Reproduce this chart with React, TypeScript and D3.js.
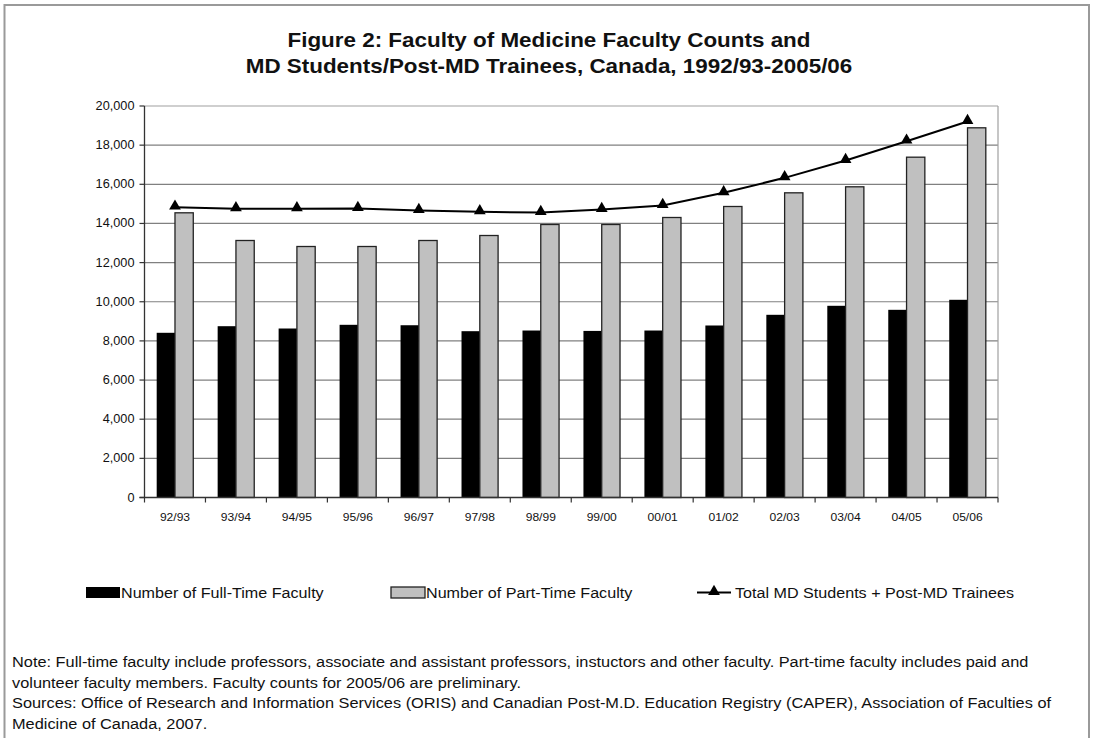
import * as d3 from "d3";
import React from "react";

const categories = ["92/93", "93/94", "94/95", "95/96", "96/97", "97/98", "98/99", "99/00", "00/01", "01/02", "02/03", "03/04", "04/05", "05/06"];
const fullTime = [8414, 8751, 8633, 8822, 8800, 8496, 8530, 8510, 8530, 8787, 9333, 9793, 9588, 10100];
const partTime = [14544, 13129, 12822, 12822, 13129, 13384, 13946, 13946, 14304, 14866, 15565, 15872, 17385, 18886];
const totalMD = [14830, 14750, 14750, 14764, 14662, 14594, 14560, 14713, 14917, 15565, 16330, 17216, 18203, 19208];
const yTicks = [0, 2000, 4000, 6000, 8000, 10000, 12000, 14000, 16000, 18000, 20000];

const titleLines = [
  "Figure 2: Faculty of Medicine Faculty Counts and",
  "MD Students/Post-MD Trainees, Canada, 1992/93-2005/06",
];
const legendLabels = ["Number of Full-Time Faculty", "Number of Part-Time Faculty", "Total MD Students + Post-MD Trainees"];
const noteLines = [
  "Note: Full-time faculty include professors, associate and assistant professors, instuctors and other faculty. Part-time faculty includes paid and",
  "volunteer faculty members. Faculty counts for 2005/06 are preliminary.",
  "Sources: Office of Research and Information Services (ORIS) and Canadian Post-M.D. Education Registry (CAPER), Association of Faculties of",
  "Medicine of Canada, 2007.",
];

const W = 1096;
const H = 738;
const left = 144.5;
const right = 998;
const top = 106;
const bottom = 497.5;
const font = "'Liberation Sans', Arial, sans-serif";

// the scanned figure is a bit wider than it is tall, so text gets a horizontal stretch
function Wide({ x, y, sx, anchor = "start", size, weight = "normal", children }: any) {
  return (
    <g transform={`translate(${x},${y}) scale(${sx},1)`}>
      <text textAnchor={anchor} fontFamily={font} fontSize={size} fontWeight={weight} fill="#111">
        {children}
      </text>
    </g>
  );
}

export default function App() {
  const x = d3.scaleBand().domain(categories).range([left, right]).padding(0);
  const y = d3.scaleLinear().domain([0, 20000]).range([bottom, top]);
  const bw = x.bandwidth() * 0.3;
  const mid = (c: string) => x(c)! + x.bandwidth() / 2;
  const fmt = d3.format(",");

  const line = d3
    .line<number>()
    .x((d, i) => mid(categories[i]))
    .y((d) => y(d));

  const tri = d3.symbol().type(d3.symbolTriangle).size(60);

  return (
    <svg width={W} height={H} style={{ position: "absolute", left: 0, top: 0, background: "#fff" }}>
      {/* outer frame */}
      <rect x={4.5} y={5} width={1084.5} height={H + 10} fill="none" stroke="#9a9a9a" strokeWidth={2} />

      {titleLines.map((t, i) => (
        <Wide key={t} x={549} y={47 + i * 26} sx={1.15} anchor="middle" size={19.5} weight="bold">
          {t}
        </Wide>
      ))}

      {/* gridlines */}
      {yTicks.map((t) => (
        <line key={"g" + t} x1={left} x2={right} y1={y(t)} y2={y(t)} stroke={t === 20000 ? "#a0a0a0" : "#808080"} strokeWidth={1.2} />
      ))}
      <line x1={right} x2={right} y1={top} y2={bottom} stroke="#a0a0a0" strokeWidth={1.2} />

      {/* bars */}
      {categories.map((c, i) => (
        <g key={c}>
          <rect x={mid(c) - bw} y={y(fullTime[i])} width={bw} height={bottom - y(fullTime[i])} fill="#000" />
          <rect x={mid(c)} y={y(partTime[i])} width={bw} height={bottom - y(partTime[i])} fill="#c0c0c0" stroke="#222" strokeWidth={1.3} />
        </g>
      ))}

      {/* axes */}
      <line x1={left} x2={left} y1={top} y2={bottom} stroke="#333" strokeWidth={1.3} />
      <line x1={left - 5} x2={right} y1={bottom} y2={bottom} stroke="#333" strokeWidth={1.3} />
      {yTicks.map((t) => (
        <g key={"t" + t}>
          <line x1={left - 5} x2={left} y1={y(t)} y2={y(t)} stroke="#333" strokeWidth={1.2} />
          <Wide x={left - 10} y={y(t) + 4} sx={1.06} anchor="end" size={12}>
            {fmt(t)}
          </Wide>
        </g>
      ))}
      {categories.map((c) => (
        <line key={"xt" + c} x1={x(c)!} x2={x(c)!} y1={bottom} y2={bottom + 5} stroke="#333" strokeWidth={1.2} />
      ))}
      <line x1={right} x2={right} y1={bottom} y2={bottom + 5} stroke="#333" strokeWidth={1.2} />
      {categories.map((c) => (
        <Wide key={"xl" + c} x={mid(c)} y={521} sx={1.05} anchor="middle" size={11.5}>
          {c}
        </Wide>
      ))}

      {/* total line */}
      <path d={line(totalMD)!} fill="none" stroke="#000" strokeWidth={2} />
      {totalMD.map((v, i) => (
        <path key={"m" + i} d={tri()!} transform={`translate(${mid(categories[i])},${y(v) - 1})`} fill="#000" />
      ))}

      {/* legend */}
      <rect x={86} y={587} width={34} height={11} fill="#000" />
      <Wide x={121} y={598} sx={1.075} size={15}>{legendLabels[0]}</Wide>
      <rect x={391} y={587} width={34} height={11} fill="#c0c0c0" stroke="#222" strokeWidth={1.3} />
      <Wide x={426} y={598} sx={1.075} size={15}>{legendLabels[1]}</Wide>
      <line x1={697} x2={731} y1={592.5} y2={592.5} stroke="#000" strokeWidth={2} />
      <path d={tri()!} transform="translate(714,591.5)" fill="#000" />
      <Wide x={735} y={598} sx={1.075} size={15}>{legendLabels[2]}</Wide>

      {/* notes */}
      {noteLines.map((t, i) => (
        <Wide key={"n" + i} x={12} y={667 + i * 20.5} sx={1.09} size={15}>
          {t}
        </Wide>
      ))}
    </svg>
  );
}
